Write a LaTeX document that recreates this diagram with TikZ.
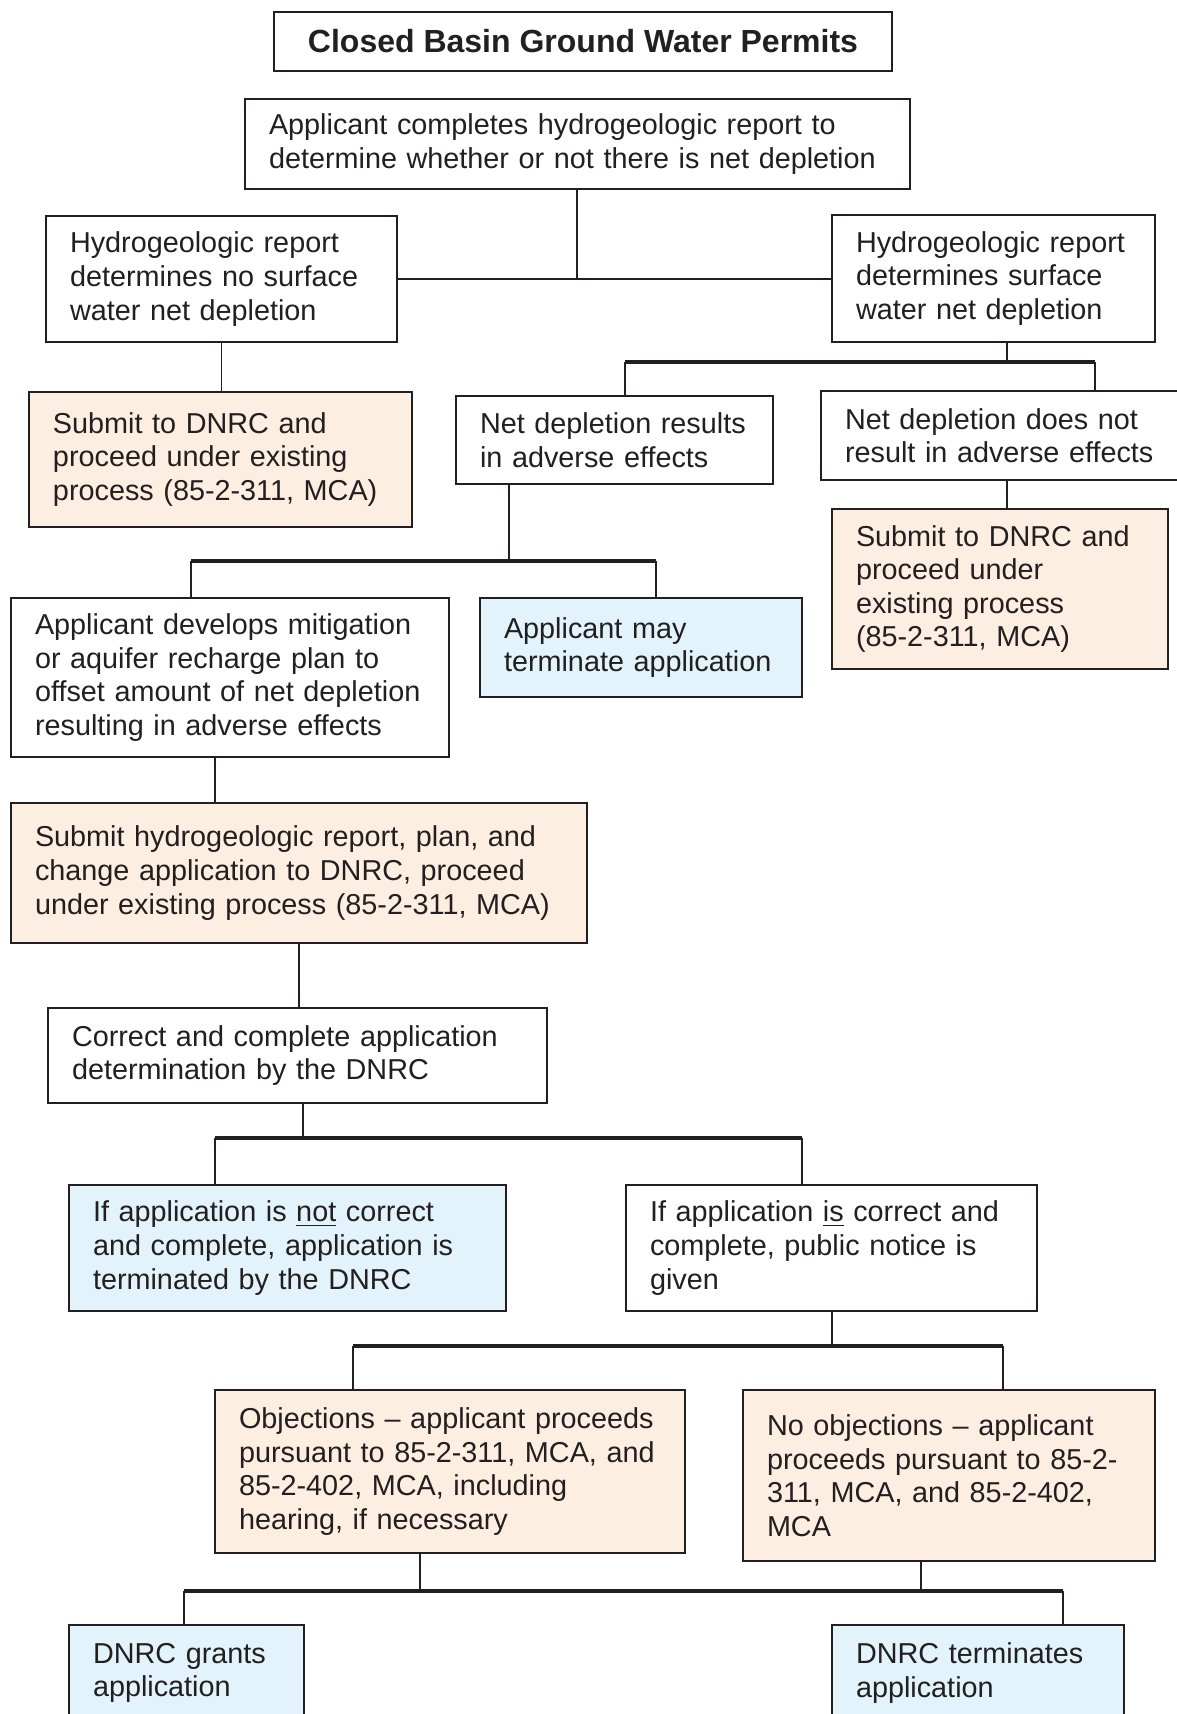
\documentclass[tikz,border=0pt]{standalone}
\usepackage{fontspec}
\setmainfont{Liberation Sans}
\definecolor{peach}{HTML}{FDEEE2}
\definecolor{sky}{HTML}{E3F3FB}
\definecolor{ink}{HTML}{231F20}

\tikzset{
	box/.style={draw=ink, line width=1pt, anchor=north west, inner xsep=12pt, inner ysep=0pt,
		align=left, text=ink, font=\fontsize{14.4}{16.8}\selectfont},
	boxsize/.style 2 args={minimum width=#1*0.5pt, minimum height=#2*0.5pt, text width=#1*0.5pt-24pt},
	peachbox/.style={box, fill=peach},
	skybox/.style={box, fill=sky},
	link/.style={draw=ink, line width=0.8pt},
	bar/.style={draw=ink, line width=1.6pt},
}

\begin{document}
\begin{tikzpicture}[x=0.5pt, y=-0.5pt]
			%%%%% START %%%%%
			
			\path[fill=white, use as bounding box] (0, 0) rectangle (1177, 1714);
			
			\node[draw=ink, line width=1pt, anchor=north west, minimum width=309pt, minimum height=29.5pt,
				font=\fontsize{16}{19}\selectfont\bfseries, text=ink] (title) at (273, 11) {Closed Basin Ground Water Permits};
			
			\node[box, boxsize={665}{90}] (report) at (244, 98) {Applicant completes hydrogeologic report to\\determine whether or not there is net depletion};
			
			\node[box, boxsize={351}{126}] (nodepl) at (45, 215) {Hydrogeologic report\\determines no surface\\water net depletion};
			\node[box, boxsize={323}{127}] (depl) at (831, 214) {Hydrogeologic report\\determines surface\\water net depletion};
			
			\node[peachbox, boxsize={383}{135}] (submitA) at (28, 391) {Submit to DNRC and\\proceed under existing\\process (85-2-311, MCA)};
			\node[box, boxsize={317}{88}] (adverse) at (455, 395) {Net depletion results\\in adverse effects};
			\node[box, boxsize={362}{89}] (noadverse) at (820, 390) {Net depletion does not\\result in adverse effects};
			\node[peachbox, boxsize={336}{160}] (submitB) at (831, 508) {Submit to DNRC and\\proceed under\\existing process\\(85-2-311, MCA)};
			
			\node[box, boxsize={438}{159}] (mitig) at (10, 597) {Applicant develops mitigation\\or aquifer recharge plan to\\offset amount of net depletion\\resulting in adverse effects};
			\node[skybox, boxsize={322}{99}] (mayterm) at (479, 597) {Applicant may\\terminate application};
			
			\node[peachbox, boxsize={576}{140}] (submitC) at (10, 802) {Submit hydrogeologic report, plan, and\\change application to DNRC, proceed\\under existing process (85-2-311, MCA)};
			
			\node[box, boxsize={499}{95}] (check) at (47, 1007) {Correct and complete application\\determination by the DNRC};
			
			\node[skybox, boxsize={437}{126}] (notok) at (68, 1184) {If application is \underline{not} correct\\and complete, application is\\terminated by the DNRC};
			\node[box, boxsize={411}{126}] (ok) at (625, 1184) {If application \underline{is} correct and\\complete, public notice is\\given};
			
			\node[peachbox, boxsize={470}{163}] (objec) at (214, 1389) {Objections -- applicant proceeds\\pursuant to 85-2-311, MCA, and\\85-2-402, MCA, including\\hearing, if necessary};
			\node[peachbox, boxsize={412}{171}] (noobjec) at (742, 1389) {No objections -- applicant\\proceeds pursuant to 85-2-\\311, MCA, and 85-2-402,\\MCA};
			
			\node[skybox, boxsize={235}{96}] (grant) at (68, 1624) {DNRC grants\\application};
			\node[skybox, boxsize={292}{96}] (term) at (831, 1624) {DNRC terminates\\application};
			
			% joints
			\coordinate (jA) at (577, 278);
			\coordinate (jC) at (1007, 362);
			\coordinate (jCl) at (625, 362);
			\coordinate (jCr) at (1095, 362);
			\coordinate (jE) at (509, 561);
			\coordinate (jEl) at (191, 561);
			\coordinate (jEr) at (656, 561);
			\coordinate (jH) at (215, 0);
			\coordinate (jK) at (303, 1138);
			\coordinate (jKl) at (215, 1138);
			\coordinate (jKr) at (802, 1138);
			\coordinate (jM) at (832, 1346);
			\coordinate (jMl) at (353, 1346);
			\coordinate (jMr) at (1003, 1346);
			\coordinate (jN) at (420, 1591);
			\coordinate (jO) at (921, 1591);
			\coordinate (jNl) at (184, 1591);
			\coordinate (jOr) at (1063, 1591);
			
			\draw[link] (report.south -| jA) -- (jA);
			\draw[link] (nodepl.east) -- (depl.west |- nodepl.east);
			\draw[link] (nodepl.south) -- (submitA.north -| nodepl.south);
			
			\draw[link] (depl.south -| jC) -- (jC);
			\draw[bar] (jCl) -- (jCr);
			\draw[link] (jCl) -- (adverse.north -| jCl);
			\draw[link] (jCr) -- (noadverse.north -| jCr);
			\draw[link] (noadverse.south -| jC) -- (submitB.north -| jC);
			
			\draw[link] (adverse.south -| jE) -- (jE);
			\draw[bar] (jEl) -- (jEr);
			\draw[link] (jEl) -- (mitig.north -| jEl);
			\draw[link] (jEr) -- (mayterm.north -| jEr);
			
			\draw[link] (mitig.south -| jH) -- (submitC.north -| jH);
			\draw[link] (submitC.south) -- (check.north -| submitC.south);
			
			\draw[link] (check.south -| jK) -- (jK);
			\draw[bar] (jKl) -- (jKr);
			\draw[link] (jKl) -- (notok.north -| jKl);
			\draw[link] (jKr) -- (ok.north -| jKr);
			
			\draw[link] (ok.south -| jM) -- (jM);
			\draw[bar] (jMl) -- (jMr);
			\draw[link] (jMl) -- (objec.north -| jMl);
			\draw[link] (jMr) -- (noobjec.north -| jMr);
			
			\draw[link] (objec.south -| jN) -- (jN);
			\draw[link] (noobjec.south -| jO) -- (jO);
			\draw[bar] (jNl) -- (jOr);
			\draw[link] (jNl) -- (grant.north -| jNl);
			\draw[link] (jOr) -- (term.north -| jOr);
			
			%%%%% END %%%%%
\end{tikzpicture}
\end{document}
